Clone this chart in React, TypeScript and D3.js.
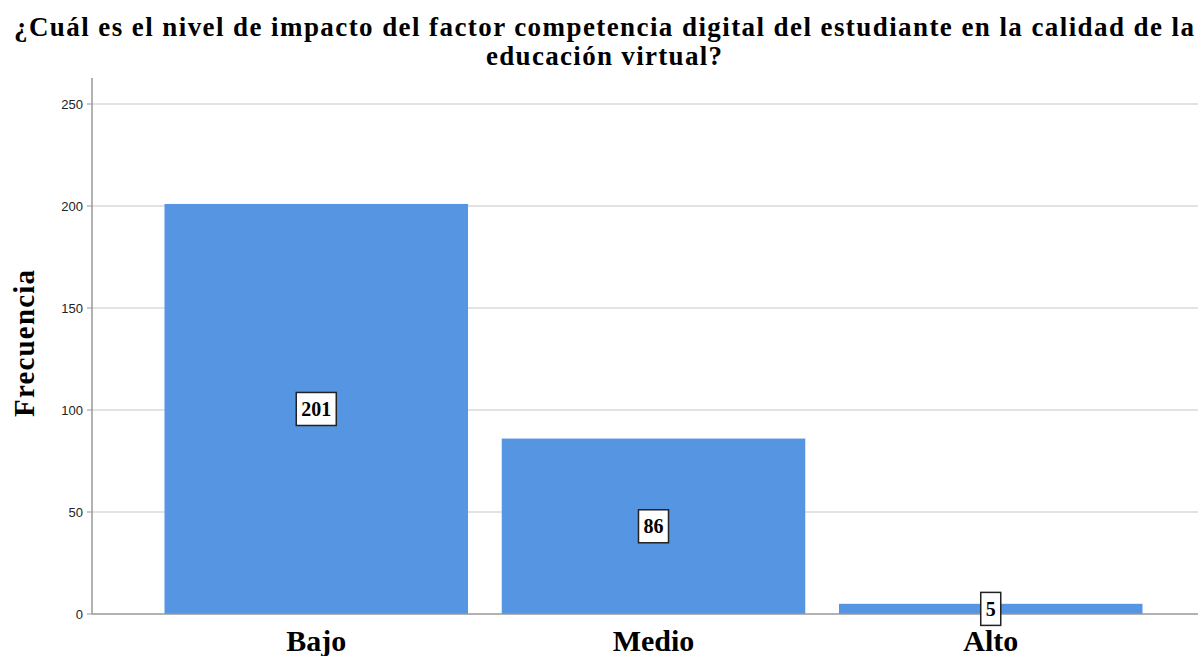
import React from "react";
import * as d3 from "d3";

const categories = ["Bajo", "Medio", "Alto"];
const frecuencias = [201, 86, 5];
const yTicks = [0, 50, 100, 150, 200, 250];
const titleLines = [
  "¿Cuál es el nivel de impacto del factor competencia digital del estudiante en la calidad de la",
  "educación virtual?",
];
const yTitle = "Frecuencia";

const W = 1198;
const H = 656;
const axisX = 92;
const serif = "'Liberation Serif', 'Times New Roman', serif";
const sans = "'Liberation Sans', Arial, sans-serif";

export default function App() {
  const y = d3.scaleLinear().domain([0, 250]).range([614, 104]);
  const x = d3
    .scaleBand<string>()
    .domain(categories)
    .range([axisX, 1215])
    .paddingInner(0.1)
    .paddingOuter(0.215);

  return (
    <svg
      width={W}
      height={H}
      style={{ position: "absolute", left: 0, top: 0, background: "#fff" }}
    >
      <text
        x={604}
        y={36}
        textAnchor="middle"
        fontFamily={serif}
        fontWeight="bold"
        fontSize={27}
        textLength={1180}
        lengthAdjust="spacing"
      >
        {titleLines[0]}
      </text>
      <text
        x={604}
        y={65}
        textAnchor="middle"
        fontFamily={serif}
        fontWeight="bold"
        fontSize={27}
        textLength={236}
        lengthAdjust="spacing"
      >
        {titleLines[1]}
      </text>

      {yTicks.map((t) => (
        <g key={t}>
          {t > 0 && (
            <line x1={axisX} x2={W} y1={y(t)} y2={y(t)} stroke="#c8c8c8" strokeWidth={1.2} />
          )}
          <line x1={axisX - 5} x2={axisX} y1={y(t)} y2={y(t)} stroke="#999" strokeWidth={1} />
          <text
            x={axisX - 9}
            y={y(t)}
            dy="0.35em"
            textAnchor="end"
            fontFamily={sans}
            fontSize={13}
            fill="#222"
          >
            {t}
          </text>
        </g>
      ))}

      {categories.map((c, i) => (
        <rect
          key={c}
          x={x(c)}
          y={y(frecuencias[i])}
          width={x.bandwidth()}
          height={y(0) - y(frecuencias[i])}
          fill="#5595e2"
        />
      ))}

      <line x1={axisX} x2={axisX} y1={78} y2={y(0)} stroke="#999" strokeWidth={1.5} />
      <line x1={axisX} x2={W} y1={y(0)} y2={y(0)} stroke="#999" strokeWidth={1.5} />

      {categories.map((c, i) => {
        const cx = (x(c) as number) + x.bandwidth() / 2;
        const cy = (y(frecuencias[i]) + y(0)) / 2;
        const label = String(frecuencias[i]);
        const bw = label.length * 10 + 10;
        return (
          <g key={c + "l"}>
            <rect
              x={cx - bw / 2}
              y={cy - 16.5}
              width={bw}
              height={33}
              fill="#fff"
              stroke="#222"
              strokeWidth={1.5}
            />
            <text
              x={cx}
              y={cy}
              dy="0.36em"
              textAnchor="middle"
              fontFamily={serif}
              fontWeight="bold"
              fontSize={20}
              fill="#000"
            >
              {label}
            </text>
            <text
              x={cx}
              y={651}
              textAnchor="middle"
              fontFamily={serif}
              fontWeight="bold"
              fontSize={30}
              fill="#000"
            >
              {c}
            </text>
          </g>
        );
      })}

      <text
        transform={`translate(34,343.5) rotate(-90)`}
        textAnchor="middle"
        fontFamily={serif}
        fontWeight="bold"
        fontSize={29}
        textLength={147}
        lengthAdjust="spacing"
        fill="#000"
      >
        {yTitle}
      </text>
    </svg>
  );
}
